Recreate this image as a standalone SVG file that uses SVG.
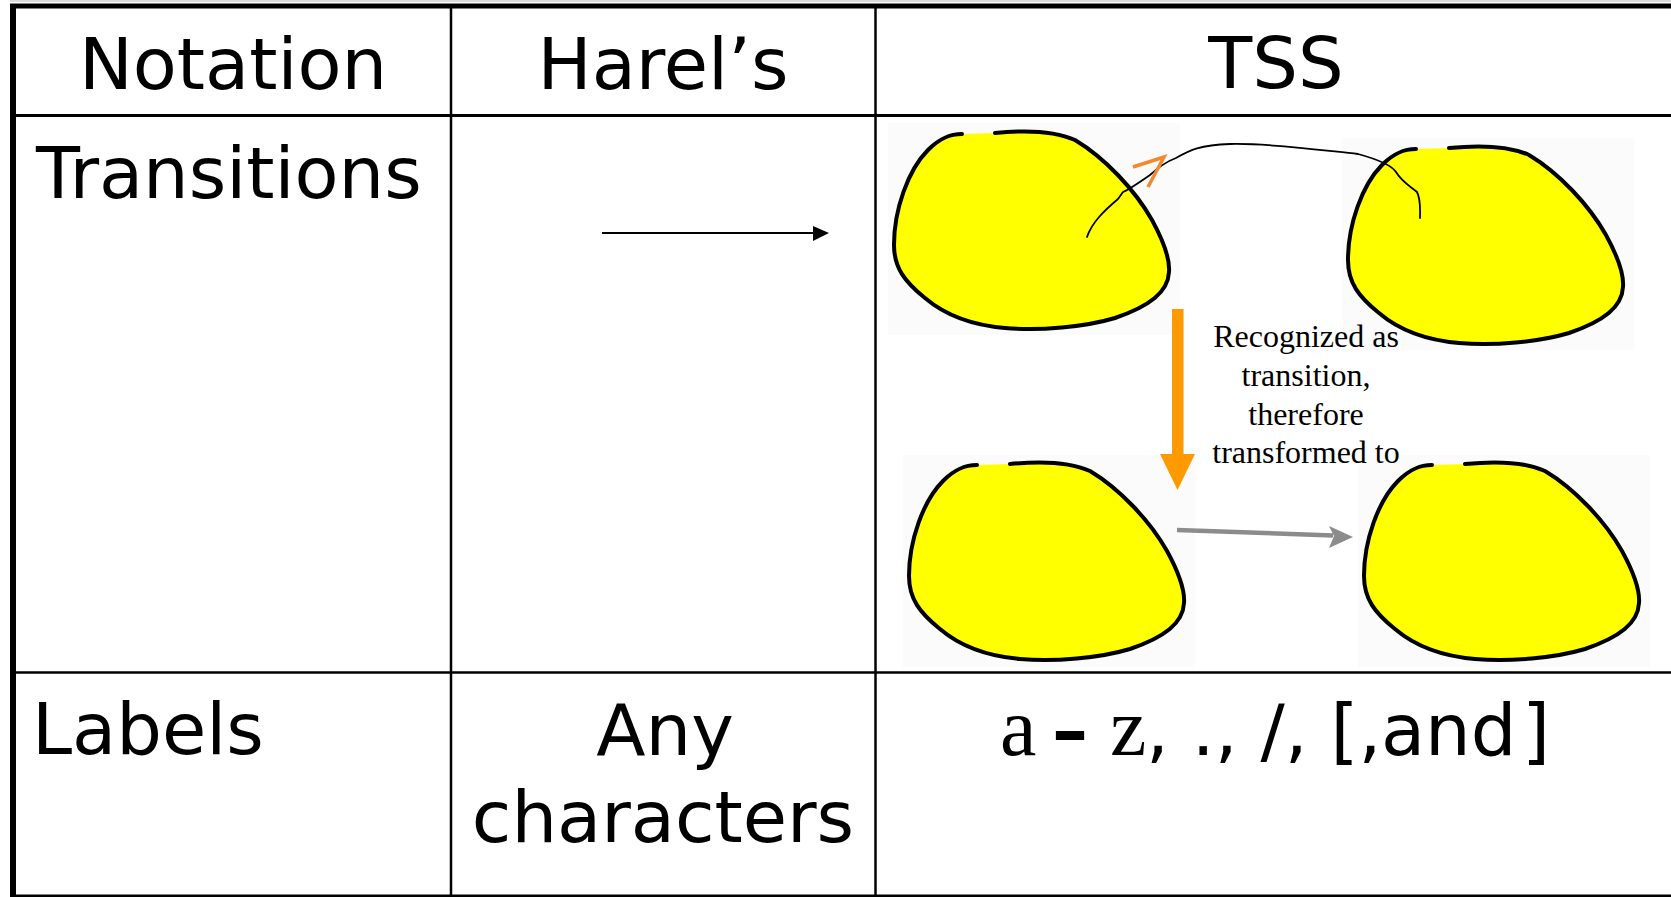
<svg xmlns="http://www.w3.org/2000/svg" xmlns:xlink="http://www.w3.org/1999/xlink" width="1671" height="897" viewBox="0 0 1671 897">
  <style>
    .grid { stroke: #000; fill: none; }
    .hand { font-family: "DejaVu Sans", "Noto Sans", sans-serif; font-size: 72px; fill: #000; }
    .note { font-family: "Liberation Serif", "Times New Roman", serif; font-size: 32px; fill: #000; text-anchor: middle; }
    .serif { font-family: "Liberation Serif", "Times New Roman", serif; }
    .ink { fill: none; stroke: #000; stroke-width: 4; stroke-linecap: round; stroke-linejoin: round; }
    .fill { fill: #ffff00; stroke: none; }
    .imgbg { fill: #fbfbfb; }
  </style>
  <defs>
    <!-- hand-sketched state outline: yellow body, black rim with a small break at the top -->
    <g id="state-shape">
      <path class="fill" d="M 995,133 C 1025,130 1055,131 1075,140 C 1105,158 1135,190 1152,220 C 1164,242 1170,260 1169,272 C 1168,292 1150,306 1115,318 C 1085,327 1040,331 1005,328 C 970,325 945,315 925,298 C 905,282 894,268 894,245 C 894,210 908,170 928,150 C 940,138 950,134 962,134 Z"/>
      <path class="ink" d="M 995,133 C 1025,130 1055,131 1075,140 C 1105,158 1135,190 1152,220 C 1164,242 1170,260 1169,272 C 1168,292 1150,306 1115,318 C 1085,327 1040,331 1005,328 C 970,325 945,315 925,298 C 905,282 894,268 894,245 C 894,210 908,170 928,150 C 940,138 950,134 962,134"/>
    </g>
  </defs>

  <rect x="0" y="0" width="1671" height="897" fill="#fff"/>

  <!-- table rules -->
  <g id="table">
    <line x1="10" y1="1" x2="1671" y2="1" stroke="#b5b5b5" stroke-width="1"/>
    <line class="grid" x1="10" y1="6" x2="1671" y2="6" stroke-width="5"/>
    <line class="grid" x1="13" y1="4" x2="13" y2="897" stroke-width="6"/>
    <line class="grid" x1="13" y1="115.5" x2="1671" y2="115.5" stroke-width="3"/>
    <line class="grid" x1="13" y1="672.5" x2="1671" y2="672.5" stroke-width="2.5"/>
    <line class="grid" x1="13" y1="896" x2="1671" y2="896" stroke-width="3"/>
    <line class="grid" x1="451" y1="6" x2="451" y2="897" stroke-width="2.5"/>
    <line class="grid" x1="875.5" y1="6" x2="875.5" y2="897" stroke-width="2.5"/>
  </g>

  <!-- header row -->
  <g id="header">
    <text class="hand" x="233" y="89" text-anchor="middle" font-size="73">Notation</text>
    <text class="hand" x="663" y="89" text-anchor="middle">Harel’s</text>
    <text class="hand" x="1276" y="88" text-anchor="middle" font-size="82">TSS</text>
  </g>

  <!-- row: transitions -->
  <g id="row-transitions">
    <text class="hand" x="36" y="198" font-size="74">Transitions</text>
  </g>

  <!-- Harel notation: plain arrow -->
  <g id="harel-arrow">
    <line x1="602" y1="233" x2="815" y2="233" stroke="#000" stroke-width="2"/>
    <polygon points="813,226 829,233 813,241" fill="#000"/>
  </g>

  <!-- TSS sketch: four states -->
  <g id="state-a">
    <rect class="imgbg" x="888" y="123" width="292" height="212"/>
    <use xlink:href="#state-shape"/>
  </g>
  <g id="state-b">
    <rect class="imgbg" x="1342" y="138" width="292" height="212"/>
    <use xlink:href="#state-shape" transform="translate(454,15)"/>
  </g>
  <g id="state-c">
    <rect class="imgbg" x="903" y="455" width="292" height="212"/>
    <use xlink:href="#state-shape" transform="translate(15,331)"/>
  </g>
  <g id="state-d">
    <rect class="imgbg" x="1358" y="455" width="292" height="212"/>
    <use xlink:href="#state-shape" transform="translate(470,331)"/>
  </g>

  <g id="connectors">
    <!-- freehand stroke drawn between the upper states -->
    <path d="M 1087,237 C 1092,222 1105,210 1118,199 L 1123,192 C 1130,189 1140,182 1150,175 C 1158,168 1165,162 1176,158 C 1190,150 1200,145 1230,144 C 1270,143 1320,150 1358,154 C 1380,160 1392,166 1396,172 C 1402,182 1410,186 1417,192 C 1421,200 1420,210 1420,218" fill="none" stroke="#000" stroke-width="1.8" stroke-linecap="round" stroke-linejoin="round"/>
    <polyline points="1133,167 1164,157 1148,187" fill="none" stroke="#f5882d" stroke-width="3.5"/>

    <!-- transformation arrow -->
    <rect x="1172" y="309" width="11.5" height="146" fill="#ff9900"/>
    <polygon points="1160,454 1195,454 1177.5,490" fill="#ff9900"/>

    <!-- recognised transition, rendered straight -->
    <line x1="1177" y1="530" x2="1333" y2="535.5" stroke="#8c8c8c" stroke-width="4.5"/>
    <polygon points="1353,537 1329,526 1334,536 1329,548" fill="#8c8c8c"/>
  </g>

  <g id="caption">
    <text class="note" x="1306" y="347">Recognized as</text>
    <text class="note" x="1306" y="386">transition,</text>
    <text class="note" x="1306" y="425">therefore</text>
    <text class="note" x="1306" y="463">transformed to</text>
  </g>

  <!-- row: labels -->
  <g id="row-labels">
    <text class="hand" x="32" y="754">Labels</text>
    <text class="hand" x="665" y="755" text-anchor="middle">Any</text>
    <text class="hand" x="663" y="842" text-anchor="middle">characters</text>
    <text class="hand" y="755" font-size="66"><tspan class="serif" x="1000" font-size="82">a</tspan><tspan x="1052" font-weight="bold">–</tspan><tspan class="serif" x="1110" font-size="82">z</tspan><tspan x="1146">, ., /, [,</tspan><tspan x="1381">and</tspan><tspan x="1522">]</tspan></text>
  </g>
</svg>
